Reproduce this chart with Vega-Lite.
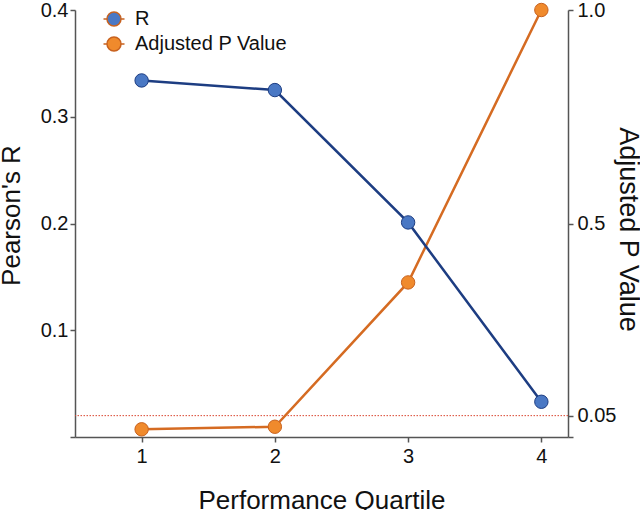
{
  "$schema": "https://vega.github.io/schema/vega-lite/v6.json",
  "width": 493,
  "height": 427,
  "autosize": "none",
  "padding": {"left": 75, "top": 10, "right": 72, "bottom": 73},
  "background": "white",
  "config": {
    "font": "Liberation Sans",
    "view": {"stroke": null},
    "axis": {
      "grid": false,
      "domainColor": "#555555",
      "tickColor": "#555555",
      "domainWidth": 1.5,
      "tickWidth": 1.5,
      "tickSize": 5,
      "labelColor": "#111111",
      "titleColor": "#111111",
      "labelFontSize": 20,
      "titleFontSize": 26,
      "titleFontWeight": "normal",
      "labelFont": "Liberation Sans",
      "titleFont": "Liberation Sans"
    }
  },
  "datasets": {
    "values": [
      {"quartile": 1, "series": "R", "value": 0.334},
      {"quartile": 2, "series": "R", "value": 0.325},
      {"quartile": 3, "series": "R", "value": 0.201},
      {"quartile": 4, "series": "R", "value": 0.033},
      {"quartile": 1, "series": "Adjusted P Value", "value": 0.018},
      {"quartile": 2, "series": "Adjusted P Value", "value": 0.024},
      {"quartile": 3, "series": "Adjusted P Value", "value": 0.362},
      {"quartile": 4, "series": "Adjusted P Value", "value": 1.0}
    ],
    "threshold": [{"value": 0.05}]
  },
  "encoding": {
    "x": {
      "field": "quartile",
      "type": "quantitative",
      "scale": {"domain": [0.5, 4.2], "nice": false, "zero": false},
      "axis": {
        "values": [1, 2, 3, 4],
        "format": "d",
        "title": "Performance Quartile",
        "labelPadding": 4,
        "titleY": 50
      }
    }
  },
  "layer": [
    {
      "layer": [
        {
          "data": {"name": "threshold"},
          "mark": {"type": "rule", "color": "#d9452f", "strokeWidth": 1, "strokeDash": [1.5, 1.5]},
          "encoding": {
            "x": null,
            "y": {"field": "value", "type": "quantitative"}
          }
        },
        {
          "data": {"name": "values"},
          "transform": [{"filter": "datum.series === 'Adjusted P Value'"}],
          "mark": {"type": "line", "color": "#d56b22", "strokeWidth": 2.5},
          "encoding": {
            "y": {"field": "value", "type": "quantitative"}
          }
        },
        {
          "data": {"name": "values"},
          "transform": [{"filter": "datum.series === 'Adjusted P Value'"}],
          "mark": {"type": "point", "filled": true, "opacity": 1, "size": 180, "stroke": "#c8621f", "strokeWidth": 1},
          "encoding": {
            "y": {"field": "value", "type": "quantitative"},
            "color": {
              "field": "series",
              "type": "nominal",
              "scale": {"domain": ["R", "Adjusted P Value"], "range": ["#4a78c4", "#f08a2c"]},
              "legend": {
                "orient": "none",
                "legendX": 29,
                "legendY": -1,
                "title": null,
                "labelFontSize": 20,
                "labelColor": "#111111",
                "labelFont": "Liberation Sans",
                "symbolType": "M-1.5,0L-1,0M1,0L1.5,0M1,0A1,1,0,1,1,-1,0A1,1,0,1,1,1,0",
                "symbolSize": 196,
                "symbolStrokeWidth": 1.5,
                "symbolOpacity": 1,
                "labelOffset": 11,
                "rowPadding": 5,
                "encode": {
                  "symbols": {
                    "update": {
                      "stroke": {"signal": "datum.value === 'R' ? '#1d3d82' : '#d56b22'"},
                      "fill": {"signal": "datum.value === 'R' ? '#4a78c4' : '#f08a2c'"}
                    }
                  }
                }
              }
            }
          }
        }
      ],
      "encoding": {
        "y": {
          "field": "value",
          "type": "quantitative",
          "scale": {"domain": [0, 1], "nice": false},
          "axis": {
            "orient": "right",
            "values": [0, 0.05, 0.5, 1],
            "labelExpr": "datum.value == 0 ? '' : (datum.value == 0.05 ? '0.05' : format(datum.value, '.1f'))",
            "labelPadding": 4,
            "title": "Adjusted P Value",
            "titleFontSize": 27,
            "titleX": 45,
            "titleY": 219
          }
        }
      }
    },
    {
      "data": {"name": "values"},
      "transform": [{"filter": "datum.series === 'R'"}],
      "layer": [
        {
          "mark": {"type": "line", "color": "#1d3d82", "strokeWidth": 2.5},
          "encoding": {
            "y": {"field": "value", "type": "quantitative"}
          }
        },
        {
          "mark": {"type": "point", "filled": true, "opacity": 1, "size": 180, "stroke": "#1d3d82", "strokeWidth": 1},
          "encoding": {
            "y": {"field": "value", "type": "quantitative"},
            "color": {"field": "series", "type": "nominal"}
          }
        }
      ],
      "encoding": {
        "y": {
          "field": "value",
          "type": "quantitative",
          "scale": {"domain": [0, 0.4], "nice": false},
          "axis": {
            "orient": "left",
            "values": [0, 0.1, 0.2, 0.3, 0.4],
            "labelExpr": "datum.value == 0 ? '' : format(datum.value, '.1f')",
            "labelPadding": 2,
            "title": "Pearson's R",
            "titleX": -51,
            "titleY": 205
          }
        }
      }
    }
  ],
  "resolve": {"scale": {"y": "independent"}}
}
